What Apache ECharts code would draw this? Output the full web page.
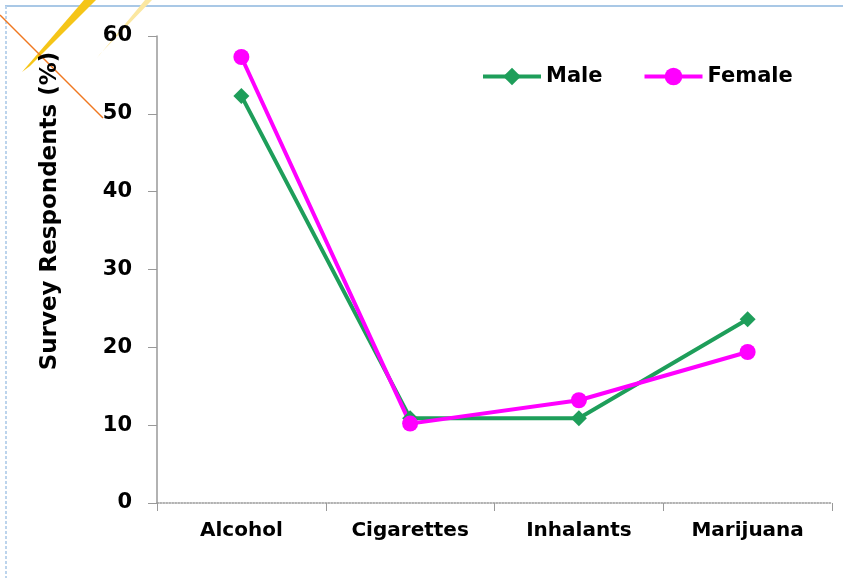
<!DOCTYPE html>
<html><head><meta charset="utf-8">
<script src="https://cdn.jsdelivr.net/npm/echarts@6/dist/echarts.min.js"></script>
<style>html,body{margin:0;padding:0;background:#fff}#c{width:843px;height:578px}</style>
</head><body><div id="c"></div>
<script>
const categories = ['Alcohol', 'Cigarettes', 'Inhalants', 'Marijuana'];
const maleValues = [52.3, 10.9, 10.9, 23.6];
const femaleValues = [57.3, 10.2, 13.2, 19.4];
const yTicks = [0, 10, 20, 30, 40, 50, 60];

const chart = echarts.init(document.getElementById('c'));
const font = '"DejaVu Sans", sans-serif';
chart.setOption({
  animation: false,
  backgroundColor: '#fff',
  grid: {left: 157, right: 11, top: 36, bottom: 75},
  legend: {
    top: 61, left: 476, itemGap: 40, itemWidth: 58, itemHeight: 22,
    lineStyle: {width: 4},
    textStyle: {fontFamily: font, fontWeight: 'bold', fontSize: 21, color: '#000'},
    data: ['Male', 'Female']
  },
  xAxis: {
    type: 'category', data: categories, boundaryGap: true,
    axisLine: {lineStyle: {color: '#999', type: 'dotted', width: 1.5}},
    axisTick: {show: true, length: 8, lineStyle: {color: '#999'}},
    axisLabel: {fontFamily: font, fontWeight: 'bold', fontSize: 20, color: '#000', margin: 18}
  },
  yAxis: {
    type: 'value', min: yTicks[0], max: yTicks[yTicks.length - 1], interval: 10,
    axisLine: {show: true, lineStyle: {color: '#999', width: 1.5}},
    axisTick: {show: true, length: 9, lineStyle: {color: '#999'}},
    splitLine: {show: false},
    axisLabel: {fontFamily: font, fontWeight: 'bold', fontSize: 21, color: '#000', margin: 25}
  },
  series: [
    {name: 'Male', type: 'line', data: maleValues, symbol: 'diamond', symbolSize: 16,
     itemStyle: {color: '#1e9e5a'}, lineStyle: {width: 4, color: '#1e9e5a'}},
    {name: 'Female', type: 'line', data: femaleValues, symbol: 'circle', symbolSize: 16,
     itemStyle: {color: '#ff00ff'}, lineStyle: {width: 4, color: '#ff00ff'}}
  ],
  graphic: [
    {type: 'line', shape: {x1: 5, y1: 6, x2: 843, y2: 6}, style: {stroke: '#a9c8e6', lineWidth: 2}},
    {type: 'line', shape: {x1: 6, y1: 6, x2: 6, y2: 578}, style: {stroke: '#bcd4ec', lineWidth: 2, lineDash: [3, 2]}},
    {type: 'polygon', shape: {points: [[22, 72], [84, 0], [96, 0], [30, 66]]}, style: {fill: '#f5c518'}},
    {type: 'polygon', shape: {points: [[97, 58], [145, 0], [152, 0], [100, 54]]}, style: {fill: '#fbe7a0'}},
    {type: 'line', shape: {x1: 0, y1: 15, x2: 103, y2: 118}, style: {stroke: '#f07820', lineWidth: 1.5}},
    {type: 'text', x: 50, y: 211, rotation: Math.PI / 2,
     style: {text: 'Survey Respondents (%)', fontFamily: font, fontWeight: 'bold', fontSize: 23,
             fill: '#000', align: 'center', verticalAlign: 'middle'}}
  ]
});
</script></body></html>
